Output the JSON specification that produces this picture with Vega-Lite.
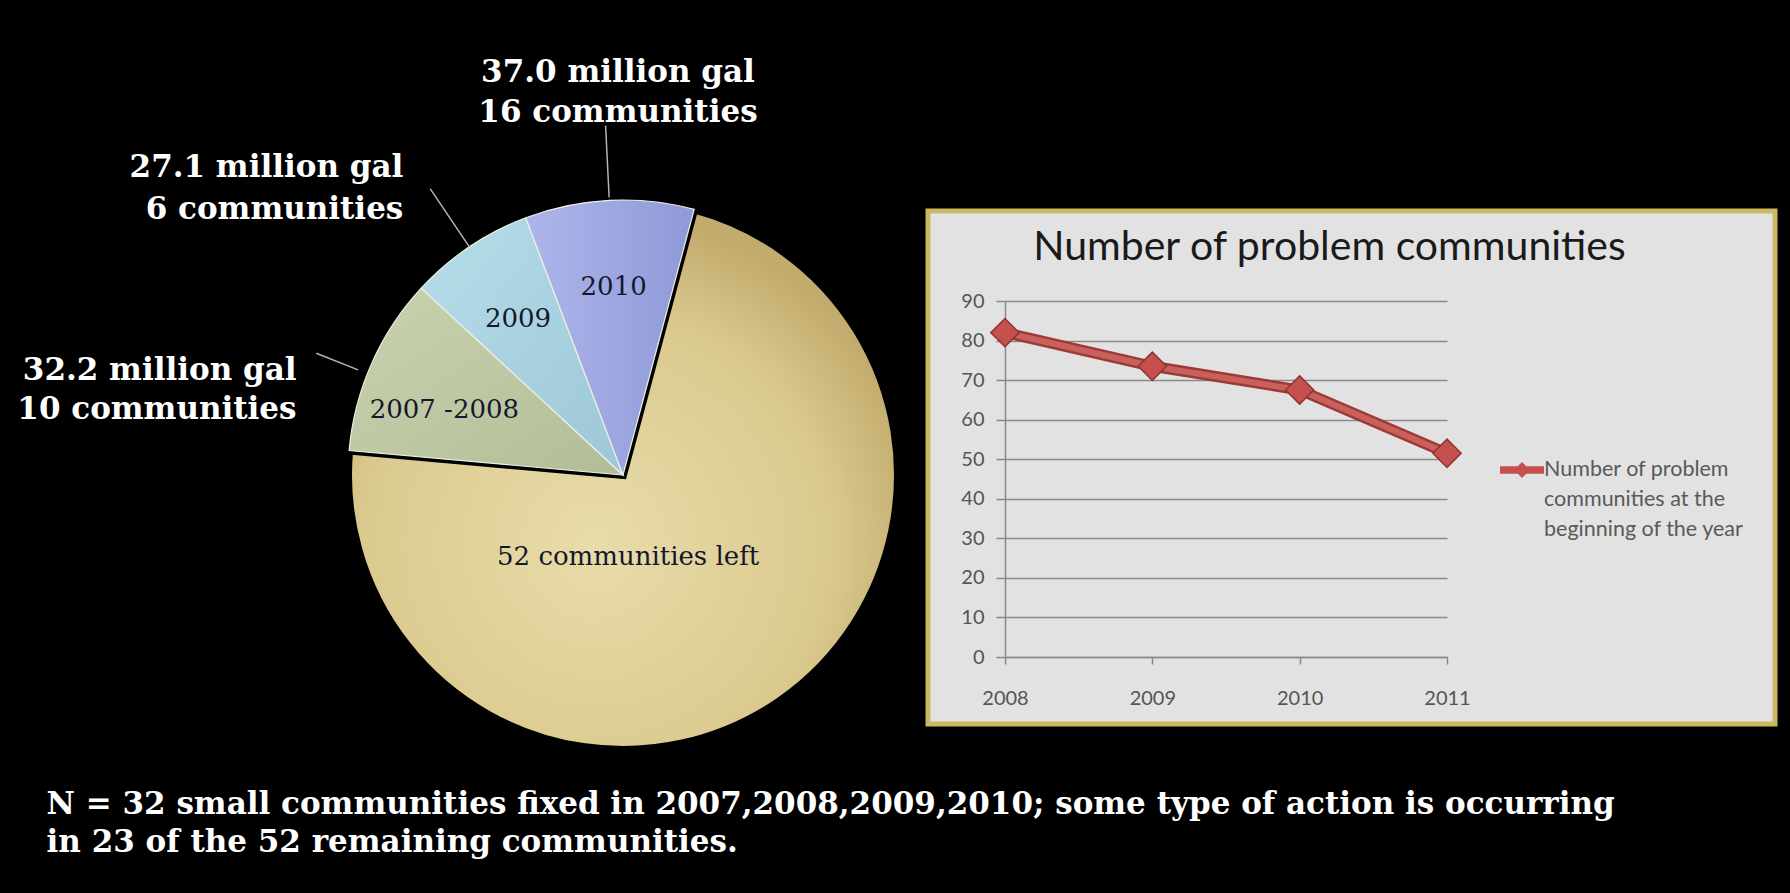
{
  "$schema": "https://vega.github.io/schema/vega-lite/v6.json",
  "background": "#000000",
  "padding": {"left": 6, "top": 57, "right": 20, "bottom": 60},
  "bounds": "flush",
  "spacing": 28,
  "resolve": {"scale": {"color": "independent"}, "legend": {"color": "independent"}},
  "title": {
    "text": ["N = 32 small communities fixed in 2007,2008,2009,2010;  some type of action is occurring", "in 23 of the 52 remaining communities."],
    "orient": "bottom",
    "anchor": "start",
    "font": "DejaVu Serif",
    "fontSize": 31,
    "fontWeight": "bold",
    "color": "#ffffff",
    "lineHeight": 38,
    "offset": -35,
    "dx": 40
  },
  "hconcat": [
    {
      "width": 554,
      "height": 528,
      "view": {"stroke": null},
      "data": {
        "values": [
          {"slice": "left", "share": 72.25, "ord": 1, "inner": "52 communities left", "outer": ""},
          {"slice": "2007-2008", "share": 10.47, "ord": 2, "inner": "2007 -2008", "outer": ["32.2 million gal", "10  communities"]},
          {"slice": "2009", "share": 7.36, "ord": 3, "inner": "2009", "outer": ["27.1 million gal", "6  communities"]},
          {"slice": "2010", "share": 9.92, "ord": 4, "inner": "2010", "outer": ["37.0 million gal", "16 communities"]}
        ]
      },
      "encoding": {
        "theta": {"field": "share", "type": "quantitative", "stack": true, "scale": {"range": [0.2618, 6.545]}},
        "order": {"field": "ord", "type": "quantitative"}
      },
      "layer": [
        {
          "mark": {"type": "arc", "outerRadius": 275},
          "encoding": {
            "fill": {
              "condition": [
                {"test": "datum.slice === 'left'", "value": {"gradient": "radial", "x1": 0.45, "y1": 0.62, "x2": 0.45, "y2": 0.62, "r1": 0, "r2": 0.6, "stops": [{"offset": 0, "color": "#e8dca9"}, {"offset": 0.7, "color": "#dbca8f"}, {"offset": 1, "color": "#c2ac6d"}]}},
                {"test": "datum.slice === '2007-2008'", "value": {"gradient": "linear", "x1": 0, "y1": 0, "x2": 1, "y2": 1, "stops": [{"offset": 0, "color": "#c9d2ae"}, {"offset": 1, "color": "#b2bd98"}]}},
                {"test": "datum.slice === '2009'", "value": {"gradient": "linear", "x1": 0, "y1": 0, "x2": 1, "y2": 1, "stops": [{"offset": 0, "color": "#b6dde9"}, {"offset": 1, "color": "#9cc7d8"}]}}
              ],
              "value": {"gradient": "linear", "x1": 0, "y1": 0, "x2": 1, "y2": 0, "stops": [{"offset": 0, "color": "#adb6ea"}, {"offset": 1, "color": "#8f99d8"}]}
            },
            "stroke": {"condition": {"test": "datum.slice === 'left'", "value": "#000000"}, "value": "#eef0e4"},
            "strokeWidth": {"condition": {"test": "datum.slice === 'left'", "value": 8}, "value": 1.2}
          }
        },
        {
          "mark": {"type": "arc", "outerRadius": 350, "innerRadius": 278, "padAngle": 3, "fillOpacity": 0, "stroke": "#b4b4b4", "strokeWidth": 1.5},
          "encoding": {"strokeOpacity": {"condition": {"test": "datum.slice === '2010'", "value": 1}, "value": 0}}
        },
        {
          "mark": {"type": "arc", "outerRadius": 345, "innerRadius": 275, "padAngle": 3, "fillOpacity": 0, "stroke": "#b4b4b4", "strokeWidth": 1.5},
          "encoding": {"strokeOpacity": {"condition": {"test": "datum.slice === '2009'", "value": 1}, "value": 0}}
        },
        {
          "mark": {"type": "arc", "outerRadius": 330, "innerRadius": 285, "padAngle": 3, "thetaOffset": -0.04, "fillOpacity": 0, "stroke": "#b4b4b4", "strokeWidth": 1.5},
          "encoding": {"strokeOpacity": {"condition": {"test": "datum.slice === '2007-2008'", "value": 1}, "value": 0}}
        },
        {
          "mark": {"type": "text", "radius": 188, "dx": 0, "font": "DejaVu Serif", "fontSize": 26, "color": "#15172b"},
          "encoding": {"text": {"condition": {"test": "datum.slice === '2009' || datum.slice === '2010'", "field": "inner", "type": "nominal"}, "value": ""}}
        },
        {
          "mark": {"type": "text", "radius": 190, "dx": -5, "dy": 12, "font": "DejaVu Serif", "fontSize": 26, "color": "#15172b"},
          "encoding": {"text": {"condition": {"test": "datum.slice === '2007-2008'", "field": "inner", "type": "nominal"}, "value": ""}}
        },
        {
          "mark": {"type": "text", "radius": 98, "dx": -51, "dy": 2, "font": "DejaVu Serif", "fontSize": 26, "color": "#15172b"},
          "encoding": {"text": {"condition": {"test": "datum.slice === 'left'", "field": "inner", "type": "nominal"}, "value": ""}}
        },
        {
          "mark": {"type": "text", "radius": 402, "dx": 15, "font": "DejaVu Serif", "fontSize": 31, "fontWeight": "bold", "color": "#ffffff", "lineHeight": 40},
          "encoding": {"text": {"condition": {"test": "datum.slice === '2010'", "field": "outer", "type": "nominal"}, "value": ""}}
        },
        {
          "mark": {"type": "text", "radius": 370, "dx": -13, "align": "right", "font": "DejaVu Serif", "fontSize": 31, "fontWeight": "bold", "color": "#ffffff", "lineHeight": 42},
          "encoding": {"text": {"condition": {"test": "datum.slice === '2009'", "field": "outer", "type": "nominal"}, "value": ""}}
        },
        {
          "mark": {"type": "text", "radius": 355, "dx": -2, "dy": 40, "align": "right", "font": "DejaVu Serif", "fontSize": 31, "fontWeight": "bold", "color": "#ffffff", "lineHeight": 39},
          "encoding": {"text": {"condition": {"test": "datum.slice === '2007-2008'", "field": "outer", "type": "nominal"}, "value": ""}}
        }
      ]
    },
    {
      "width": 847,
      "height": 513,
      "view": {"fill": "#e2e2e2", "stroke": "#cdb862", "strokeWidth": 5},
      "title": {
        "text": "Number of problem communities",
        "font": "Lato",
        "fontSize": 41,
        "fontWeight": "normal",
        "color": "#1a1a1a",
        "anchor": "middle",
        "offset": -58,
        "dx": -22
      },
      "data": {
        "values": [
          {"year": "2008", "count": 82},
          {"year": "2009", "count": 73.5},
          {"year": "2010", "count": 67.5},
          {"year": "2011", "count": 51.5}
        ]
      },
      "encoding": {
        "x": {
          "field": "year",
          "type": "ordinal",
          "scale": {"type": "point", "range": [77, 519], "padding": 0},
          "axis": {"title": null, "orient": "bottom", "offset": -67, "labelAngle": 0, "labelFont": "Lato", "labelFontSize": 20, "labelColor": "#555555", "labelPadding": 24, "tickSize": 7, "tickColor": "#8a8a8a", "tickWidth": 1.5, "domainColor": "#8a8a8a", "domainWidth": 1.5, "grid": false}
        },
        "y": {
          "field": "count",
          "type": "quantitative",
          "scale": {"domain": [0, 90], "range": [446, 90], "nice": false, "zero": true},
          "axis": {"title": null, "offset": -77, "values": [0, 10, 20, 30, 40, 50, 60, 70, 80, 90], "labelFont": "Lato", "labelFontSize": 20, "labelColor": "#555555", "labelPadding": 12, "tickSize": 9, "tickColor": "#8a8a8a", "tickWidth": 1.5, "domainColor": "#8a8a8a", "domainWidth": 1.5, "grid": true, "gridColor": "#8a8a8a", "gridWidth": 1.5}
        }
      },
      "layer": [
        {"mark": {"type": "line", "color": "#9c3a37", "strokeWidth": 11}},
        {"mark": {"type": "line", "color": "#c9605c", "strokeWidth": 6}},
        {
          "mark": {"type": "point", "shape": "diamond", "filled": true, "size": 800, "opacity": 1, "stroke": "#8f3532", "strokeWidth": 1.5},
          "encoding": {
            "color": {
              "datum": "Number of problem communities at the beginning of the year",
              "type": "nominal",
              "scale": {"range": ["#c6504d"]},
              "legend": {
                "title": null,
                "orient": "none",
                "legendX": 572,
                "legendY": 237,
                "symbolType": "M-1,-0.17L1,-0.17L1,0.17L-1,0.17Z M0,-0.36L0.36,0L0,0.36L-0.36,0Z",
                "symbolSize": 1936,
                "symbolStrokeWidth": 0,
                "symbolOpacity": 1,
                "labelFont": "Lato",
                "labelFontSize": 21.5,
                "labelColor": "#595959",
                "labelLimit": 400,
                "labelOffset": 0,
                "labelExpr": "['Number of problem', 'communities at the', 'beginning of the year']"
              }
            }
          }
        }
      ]
    }
  ],
  "config": {"view": {"stroke": null}, "style": {"guide-label": {"lineHeight": 30}}}
}
